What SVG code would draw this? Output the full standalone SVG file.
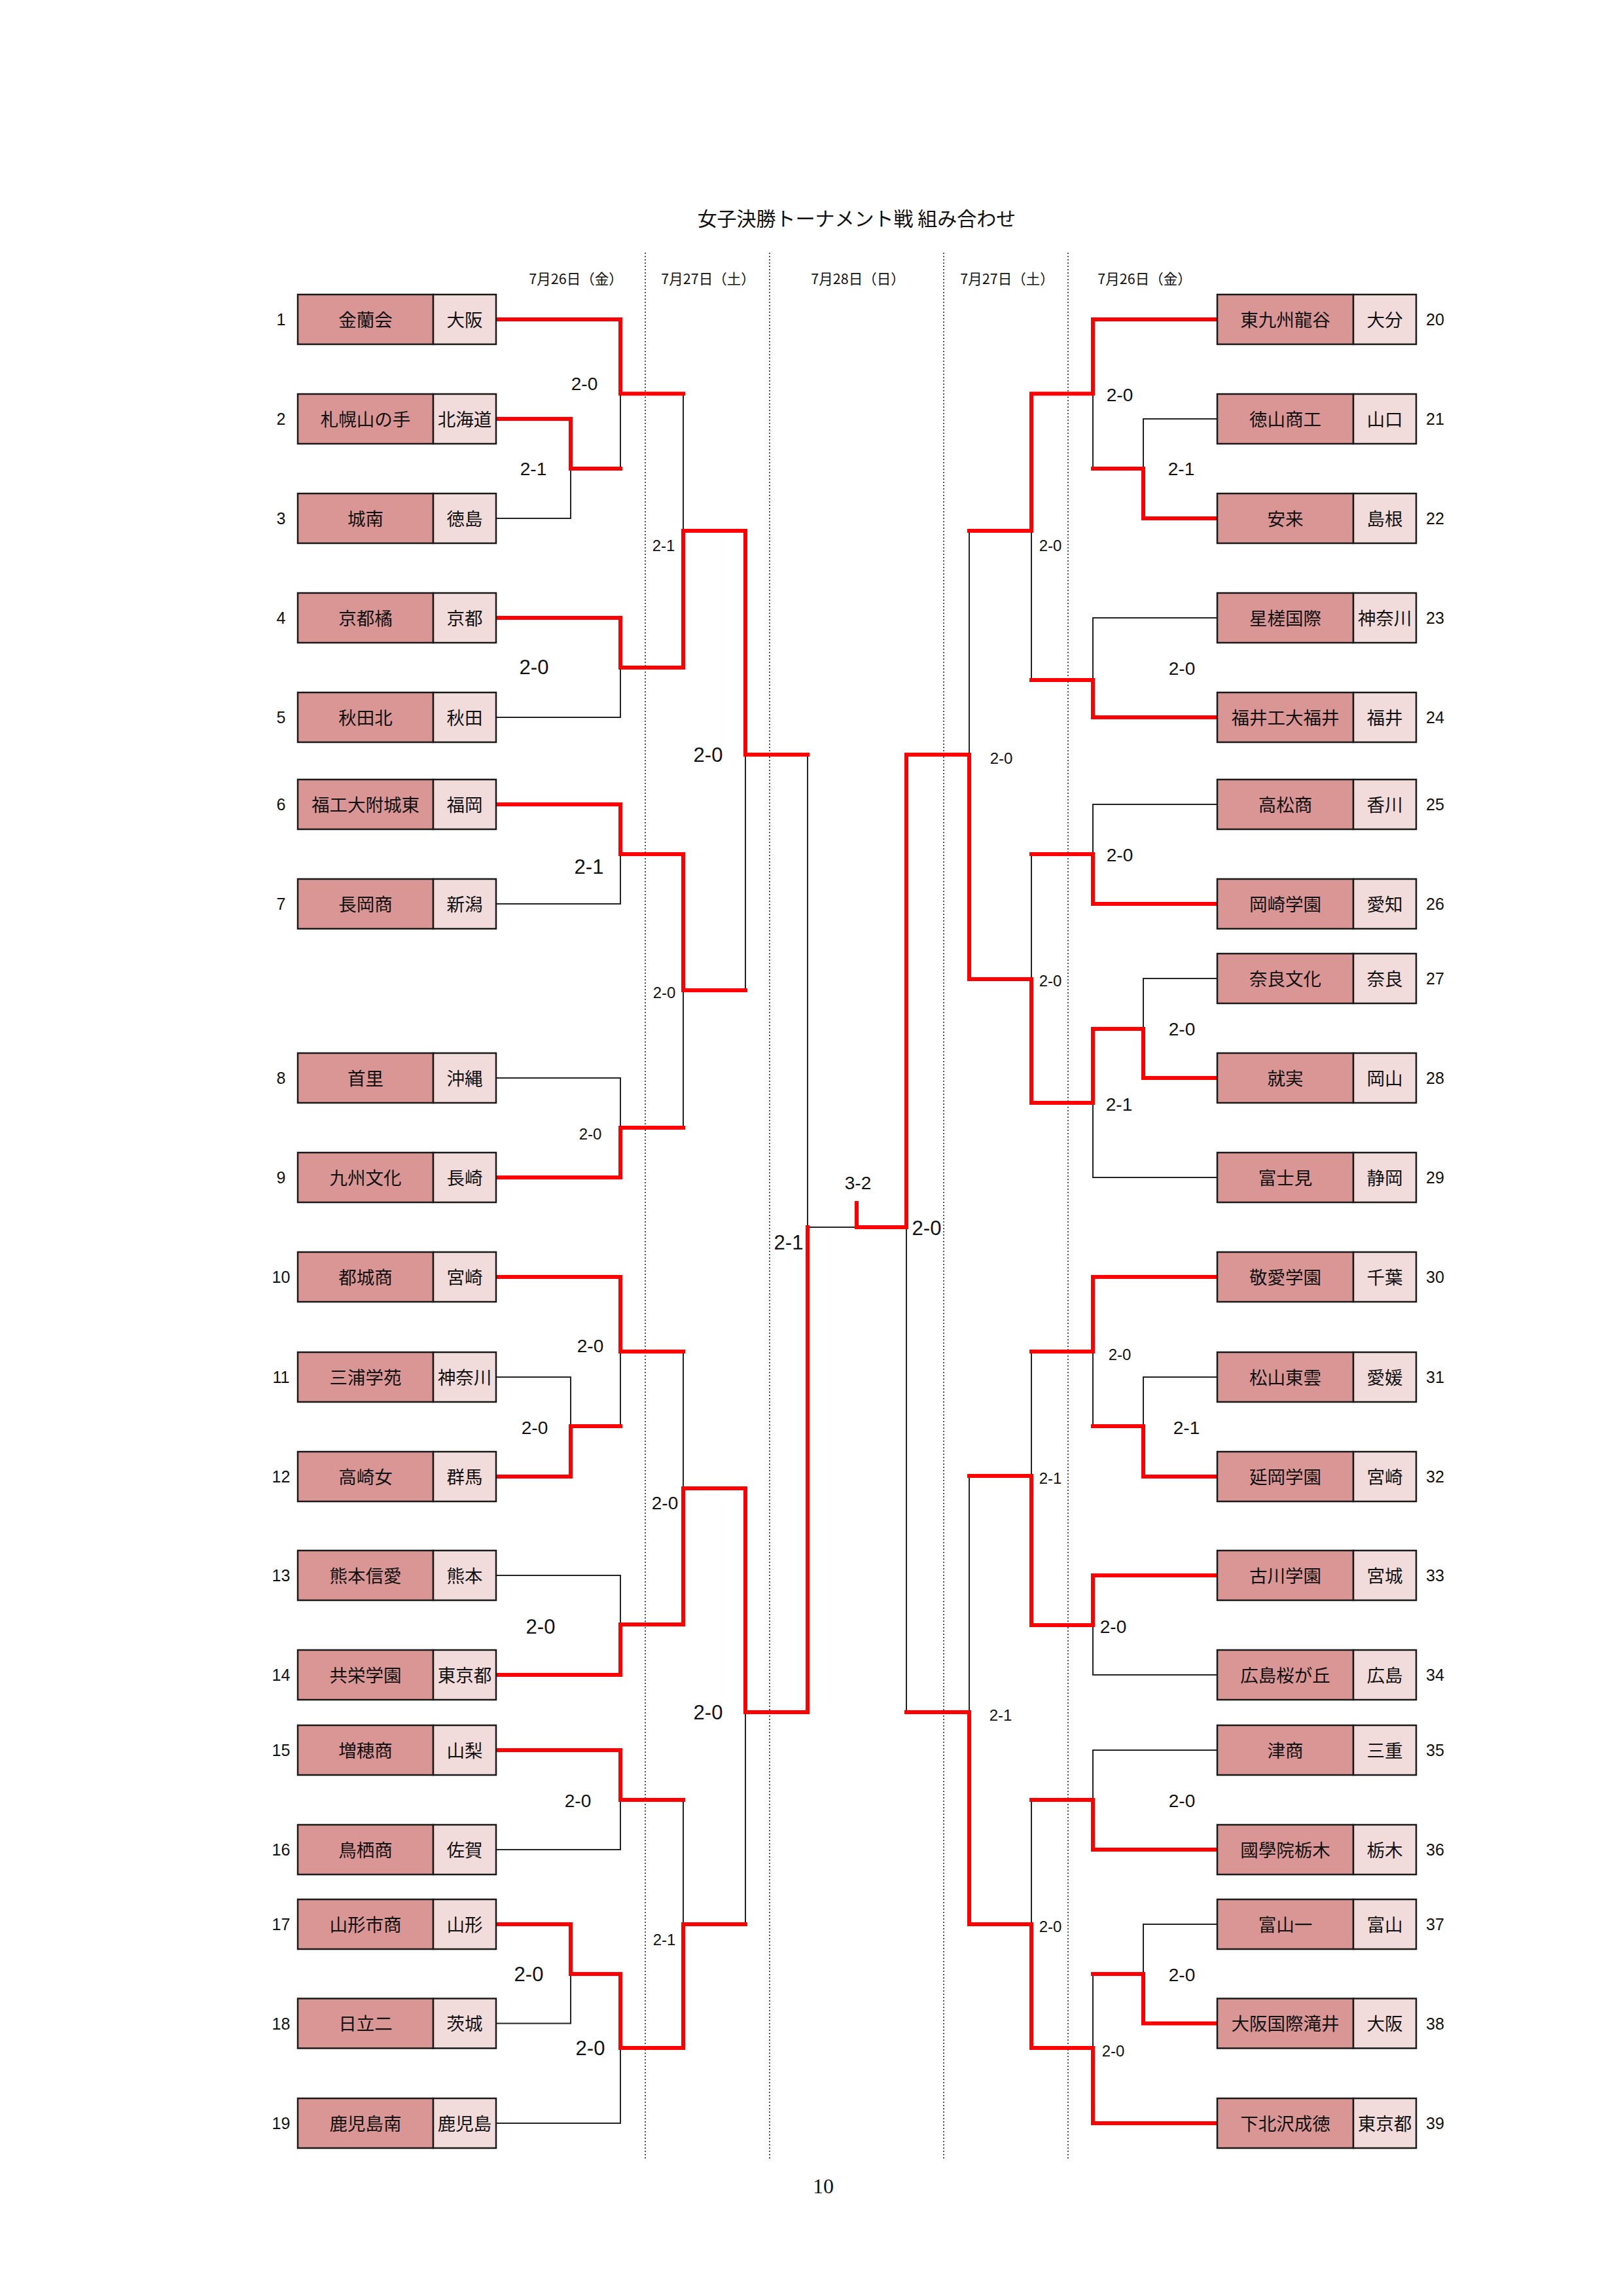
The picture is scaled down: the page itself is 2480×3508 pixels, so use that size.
<svg xmlns="http://www.w3.org/2000/svg" width="2480" height="3508" viewBox="0 0 2480 3508">
<style>
.bg{fill:#ffffff}
.n{fill:#D99694;stroke:#1a1a1a;stroke-width:2.5}
.p{fill:#F2DCDB;stroke:#1a1a1a;stroke-width:2.5}
.tn{font-family:"Noto Sans CJK JP","Noto Sans CJK SC",sans-serif;font-size:27.5px;fill:#111;text-anchor:middle}
.no{font-family:"Liberation Sans","Noto Sans CJK JP",sans-serif;font-size:25px;fill:#111;text-anchor:middle}
.t{fill:none;stroke:#222;stroke-width:2}
.r{fill:none;stroke:#FF0000;stroke-width:6;stroke-linejoin:miter;stroke-linecap:square}
.d{fill:none;stroke:#555;stroke-width:2;stroke-dasharray:2 3}
.s,.m,.l{font-family:"Liberation Sans","Noto Sans CJK JP",sans-serif;fill:#111;text-anchor:middle}
.s{font-size:24px}
.m{font-size:28px}
.l{font-size:31px}
.title{font-family:"Noto Sans CJK JP","Noto Sans CJK SC",sans-serif;font-size:30px;fill:#111;text-anchor:middle}
.date{font-family:"Noto Sans CJK JP","Noto Sans CJK SC",sans-serif;font-size:21.5px;fill:#111;text-anchor:middle}
.pg{font-family:"Liberation Serif",serif;font-size:32px;fill:#111;text-anchor:middle}
</style>
<rect class="bg" x="0" y="0" width="2480" height="3508"/>

<text class="title" x="1309" y="345">女子決勝トーナメント戦 組み合わせ</text>

<g id="dates">
<text class="date" x="880" y="434">7月26日（金）</text>
<text class="date" x="1082" y="434">7月27日（土）</text>
<text class="date" x="1311" y="434">7月28日（日）</text>
<text class="date" x="1539" y="434">7月27日（土）</text>
<text class="date" x="1749" y="434">7月26日（金）</text>
</g>

<g id="day-dividers">
<line class="d" x1="986" y1="386" x2="986" y2="3300"/>
<line class="d" x1="1176" y1="386" x2="1176" y2="3300"/>
<line class="d" x1="1442" y1="386" x2="1442" y2="3300"/>
<line class="d" x1="1632" y1="386" x2="1632" y2="3300"/>
</g>

<g id="connectors">
<g id="thin-lines">
<path class="t" d="M758 792 H872 V716"/>
<path class="t" d="M948 601.5 V716"/>
<path class="t" d="M1044 601.5 V811"/>
<path class="t" d="M758 1096 H948 V1020"/>
<path class="t" d="M758 1381 H948 V1305"/>
<path class="t" d="M758 1647 H948 V1723"/>
<path class="t" d="M1044 1513 V1723"/>
<path class="t" d="M1139 1153 V1513"/>
<path class="t" d="M1234 1153 V1875 H1309"/>
<path class="t" d="M758 2104 H872 V2179"/>
<path class="t" d="M948 2065 V2179"/>
<path class="t" d="M758 2407 H948 V2482"/>
<path class="t" d="M1044 2065 V2274"/>
<path class="t" d="M758 2826 H948 V2750"/>
<path class="t" d="M758 3091.5 H872 V3016"/>
<path class="t" d="M758 3244 H948 V3129"/>
<path class="t" d="M1044 2750 V2940"/>
<path class="t" d="M1139 2616 V2940"/>

<path class="t" d="M1860 640 H1747 V716"/>
<path class="t" d="M1670 601.5 V716"/>
<path class="t" d="M1576 811 V1039"/>
<path class="t" d="M1860 944 H1670 V1039"/>
<path class="t" d="M1860 1229 H1670 V1305"/>
<path class="t" d="M1576 1305 V1496"/>
<path class="t" d="M1860 1495 H1747 V1572"/>
<path class="t" d="M1860 1799 H1670 V1685"/>
<path class="t" d="M1481 811 V1153"/>
<path class="t" d="M1385 1875 V2616"/>
<path class="t" d="M1860 2104 H1747 V2179"/>
<path class="t" d="M1670 2065 V2179"/>
<path class="t" d="M1860 2559 H1670 V2483"/>
<path class="t" d="M1576 2065 V2255"/>
<path class="t" d="M1481 2255 V2616"/>
<path class="t" d="M1860 2674 H1670 V2750"/>
<path class="t" d="M1576 2750 V2940"/>
<path class="t" d="M1860 2940 H1747 V3016"/>
<path class="t" d="M1670 3016 V3129"/>
</g>
<g id="winner-lines">
<path class="r" d="M758 488 H948 V601.5 H1044"/>
<path class="r" d="M758 640 H872 V716 H948"/>
<path class="r" d="M758 944 H948 V1020 H1044 V811 H1139 V1153 H1234"/>
<path class="r" d="M758 1229 H948 V1305 H1044 V1513 H1139"/>
<path class="r" d="M758 1799 H948 V1723 H1044"/>
<path class="r" d="M758 1951 H948 V2065 H1044"/>
<path class="r" d="M758 2256 H872 V2179 H948"/>
<path class="r" d="M758 2559 H948 V2482 H1044 V2274 H1139 V2616 H1234 V1875"/>
<path class="r" d="M758 2674 H948 V2750 H1044"/>
<path class="r" d="M758 2940 H872 V3016 H948 V3129 H1044 V2940 H1139"/>

<path class="r" d="M1860 488 H1670 V601.5 H1576 V811 H1481"/>
<path class="r" d="M1860 792 H1747 V716 H1670"/>
<path class="r" d="M1860 1096 H1670 V1039 H1576"/>
<path class="r" d="M1860 1381 H1670 V1305 H1576"/>
<path class="r" d="M1860 1647 H1747 V1572 H1670 V1685 H1576 V1496 H1481 V1153 H1385 V1875 H1309 V1838"/>
<path class="r" d="M1860 1951 H1670 V2065 H1576"/>
<path class="r" d="M1860 2256 H1747 V2179 H1670"/>
<path class="r" d="M1860 2407 H1670 V2483 H1576 V2255 H1481"/>
<path class="r" d="M1860 2826 H1670 V2750 H1576"/>
<path class="r" d="M1860 3091.5 H1747 V3016 H1670"/>
<path class="r" d="M1860 3244 H1670 V3129 H1576 V2940 H1481 V2616 H1385"/>
</g>
<g id="scores">
<text class="m" x="893" y="596">2-0</text>
<text class="m" x="815" y="726">2-1</text>
<text class="s" x="1014" y="842">2-1</text>
<text class="l" x="816" y="1030">2-0</text>
<text class="l" x="900" y="1335">2-1</text>
<text class="s" x="1015" y="1525">2-0</text>
<text class="l" x="1082" y="1164">2-0</text>
<text class="s" x="902" y="1741">2-0</text>
<text class="l" x="1205" y="1909">2-1</text>
<text class="m" x="902" y="2066">2-0</text>
<text class="m" x="817" y="2191">2-0</text>
<text class="l" x="826" y="2496">2-0</text>
<text class="m" x="1016" y="2306">2-0</text>
<text class="m" x="883" y="2761">2-0</text>
<text class="s" x="1015" y="2972">2-1</text>
<text class="l" x="808" y="3027">2-0</text>
<text class="l" x="902" y="3140">2-0</text>
<text class="l" x="1082" y="2627">2-0</text>

<text class="m" x="1711" y="613">2-0</text>
<text class="m" x="1805" y="726">2-1</text>
<text class="s" x="1605" y="842">2-0</text>
<text class="m" x="1806" y="1031">2-0</text>
<text class="m" x="1711" y="1316">2-0</text>
<text class="s" x="1530" y="1167">2-0</text>
<text class="s" x="1605" y="1507">2-0</text>
<text class="m" x="1806" y="1582">2-0</text>
<text class="m" x="1710" y="1697">2-1</text>
<text class="l" x="1416" y="1887">2-0</text>
<text class="m" x="1311" y="1817">3-2</text>
<text class="s" x="1711" y="2078">2-0</text>
<text class="m" x="1813" y="2191">2-1</text>
<text class="s" x="1605" y="2267">2-1</text>
<text class="m" x="1701" y="2495">2-0</text>
<text class="s" x="1529" y="2629">2-1</text>
<text class="m" x="1806" y="2761">2-0</text>
<text class="s" x="1605" y="2952">2-0</text>
<text class="m" x="1806" y="3027">2-0</text>
<text class="s" x="1701" y="3142">2-0</text>
</g>
</g>

<g id="team-1" transform="translate(455,450)"><rect class="n" width="207" height="76"/><rect class="p" x="207" width="96" height="76"/><text class="tn" x="103.5" y="48.5">金蘭会</text><text class="tn" x="255" y="48.5">大阪</text><text class="no" x="-25.5" y="47">1</text></g>
<g id="team-2" transform="translate(455,602)"><rect class="n" width="207" height="76"/><rect class="p" x="207" width="96" height="76"/><text class="tn" x="103.5" y="48.5">札幌山の手</text><text class="tn" x="255" y="48.5">北海道</text><text class="no" x="-25.5" y="47">2</text></g>
<g id="team-3" transform="translate(455,754)"><rect class="n" width="207" height="76"/><rect class="p" x="207" width="96" height="76"/><text class="tn" x="103.5" y="48.5">城南</text><text class="tn" x="255" y="48.5">徳島</text><text class="no" x="-25.5" y="47">3</text></g>
<g id="team-4" transform="translate(455,906)"><rect class="n" width="207" height="76"/><rect class="p" x="207" width="96" height="76"/><text class="tn" x="103.5" y="48.5">京都橘</text><text class="tn" x="255" y="48.5">京都</text><text class="no" x="-25.5" y="47">4</text></g>
<g id="team-5" transform="translate(455,1058)"><rect class="n" width="207" height="76"/><rect class="p" x="207" width="96" height="76"/><text class="tn" x="103.5" y="48.5">秋田北</text><text class="tn" x="255" y="48.5">秋田</text><text class="no" x="-25.5" y="47">5</text></g>
<g id="team-6" transform="translate(455,1191)"><rect class="n" width="207" height="76"/><rect class="p" x="207" width="96" height="76"/><text class="tn" x="103.5" y="48.5">福工大附城東</text><text class="tn" x="255" y="48.5">福岡</text><text class="no" x="-25.5" y="47">6</text></g>
<g id="team-7" transform="translate(455,1343)"><rect class="n" width="207" height="76"/><rect class="p" x="207" width="96" height="76"/><text class="tn" x="103.5" y="48.5">長岡商</text><text class="tn" x="255" y="48.5">新潟</text><text class="no" x="-25.5" y="47">7</text></g>
<g id="team-8" transform="translate(455,1609)"><rect class="n" width="207" height="76"/><rect class="p" x="207" width="96" height="76"/><text class="tn" x="103.5" y="48.5">首里</text><text class="tn" x="255" y="48.5">沖縄</text><text class="no" x="-25.5" y="47">8</text></g>
<g id="team-9" transform="translate(455,1761)"><rect class="n" width="207" height="76"/><rect class="p" x="207" width="96" height="76"/><text class="tn" x="103.5" y="48.5">九州文化</text><text class="tn" x="255" y="48.5">長崎</text><text class="no" x="-25.5" y="47">9</text></g>
<g id="team-10" transform="translate(455,1913)"><rect class="n" width="207" height="76"/><rect class="p" x="207" width="96" height="76"/><text class="tn" x="103.5" y="48.5">都城商</text><text class="tn" x="255" y="48.5">宮崎</text><text class="no" x="-25.5" y="47">10</text></g>
<g id="team-11" transform="translate(455,2066)"><rect class="n" width="207" height="76"/><rect class="p" x="207" width="96" height="76"/><text class="tn" x="103.5" y="48.5">三浦学苑</text><text class="tn" x="255" y="48.5">神奈川</text><text class="no" x="-25.5" y="47">11</text></g>
<g id="team-12" transform="translate(455,2218)"><rect class="n" width="207" height="76"/><rect class="p" x="207" width="96" height="76"/><text class="tn" x="103.5" y="48.5">高崎女</text><text class="tn" x="255" y="48.5">群馬</text><text class="no" x="-25.5" y="47">12</text></g>
<g id="team-13" transform="translate(455,2369)"><rect class="n" width="207" height="76"/><rect class="p" x="207" width="96" height="76"/><text class="tn" x="103.5" y="48.5">熊本信愛</text><text class="tn" x="255" y="48.5">熊本</text><text class="no" x="-25.5" y="47">13</text></g>
<g id="team-14" transform="translate(455,2521)"><rect class="n" width="207" height="76"/><rect class="p" x="207" width="96" height="76"/><text class="tn" x="103.5" y="48.5">共栄学園</text><text class="tn" x="255" y="48.5">東京都</text><text class="no" x="-25.5" y="47">14</text></g>
<g id="team-15" transform="translate(455,2636)"><rect class="n" width="207" height="76"/><rect class="p" x="207" width="96" height="76"/><text class="tn" x="103.5" y="48.5">増穂商</text><text class="tn" x="255" y="48.5">山梨</text><text class="no" x="-25.5" y="47">15</text></g>
<g id="team-16" transform="translate(455,2788)"><rect class="n" width="207" height="76"/><rect class="p" x="207" width="96" height="76"/><text class="tn" x="103.5" y="48.5">鳥栖商</text><text class="tn" x="255" y="48.5">佐賀</text><text class="no" x="-25.5" y="47">16</text></g>
<g id="team-17" transform="translate(455,2902)"><rect class="n" width="207" height="76"/><rect class="p" x="207" width="96" height="76"/><text class="tn" x="103.5" y="48.5">山形市商</text><text class="tn" x="255" y="48.5">山形</text><text class="no" x="-25.5" y="47">17</text></g>
<g id="team-18" transform="translate(455,3053.5)"><rect class="n" width="207" height="76"/><rect class="p" x="207" width="96" height="76"/><text class="tn" x="103.5" y="48.5">日立二</text><text class="tn" x="255" y="48.5">茨城</text><text class="no" x="-25.5" y="47">18</text></g>
<g id="team-19" transform="translate(455,3206)"><rect class="n" width="207" height="76"/><rect class="p" x="207" width="96" height="76"/><text class="tn" x="103.5" y="48.5">鹿児島南</text><text class="tn" x="255" y="48.5">鹿児島</text><text class="no" x="-25.5" y="47">19</text></g>

<g id="team-20" transform="translate(1860,450)"><rect class="n" width="208" height="76"/><rect class="p" x="208" width="96" height="76"/><text class="tn" x="104" y="48.5">東九州龍谷</text><text class="tn" x="256" y="48.5">大分</text><text class="no" x="333" y="47">20</text></g>
<g id="team-21" transform="translate(1860,602)"><rect class="n" width="208" height="76"/><rect class="p" x="208" width="96" height="76"/><text class="tn" x="104" y="48.5">徳山商工</text><text class="tn" x="256" y="48.5">山口</text><text class="no" x="333" y="47">21</text></g>
<g id="team-22" transform="translate(1860,754)"><rect class="n" width="208" height="76"/><rect class="p" x="208" width="96" height="76"/><text class="tn" x="104" y="48.5">安来</text><text class="tn" x="256" y="48.5">島根</text><text class="no" x="333" y="47">22</text></g>
<g id="team-23" transform="translate(1860,906)"><rect class="n" width="208" height="76"/><rect class="p" x="208" width="96" height="76"/><text class="tn" x="104" y="48.5">星槎国際</text><text class="tn" x="256" y="48.5">神奈川</text><text class="no" x="333" y="47">23</text></g>
<g id="team-24" transform="translate(1860,1058)"><rect class="n" width="208" height="76"/><rect class="p" x="208" width="96" height="76"/><text class="tn" x="104" y="48.5">福井工大福井</text><text class="tn" x="256" y="48.5">福井</text><text class="no" x="333" y="47">24</text></g>
<g id="team-25" transform="translate(1860,1191)"><rect class="n" width="208" height="76"/><rect class="p" x="208" width="96" height="76"/><text class="tn" x="104" y="48.5">高松商</text><text class="tn" x="256" y="48.5">香川</text><text class="no" x="333" y="47">25</text></g>
<g id="team-26" transform="translate(1860,1343)"><rect class="n" width="208" height="76"/><rect class="p" x="208" width="96" height="76"/><text class="tn" x="104" y="48.5">岡崎学園</text><text class="tn" x="256" y="48.5">愛知</text><text class="no" x="333" y="47">26</text></g>
<g id="team-27" transform="translate(1860,1457)"><rect class="n" width="208" height="76"/><rect class="p" x="208" width="96" height="76"/><text class="tn" x="104" y="48.5">奈良文化</text><text class="tn" x="256" y="48.5">奈良</text><text class="no" x="333" y="47">27</text></g>
<g id="team-28" transform="translate(1860,1609)"><rect class="n" width="208" height="76"/><rect class="p" x="208" width="96" height="76"/><text class="tn" x="104" y="48.5">就実</text><text class="tn" x="256" y="48.5">岡山</text><text class="no" x="333" y="47">28</text></g>
<g id="team-29" transform="translate(1860,1761)"><rect class="n" width="208" height="76"/><rect class="p" x="208" width="96" height="76"/><text class="tn" x="104" y="48.5">富士見</text><text class="tn" x="256" y="48.5">静岡</text><text class="no" x="333" y="47">29</text></g>
<g id="team-30" transform="translate(1860,1913)"><rect class="n" width="208" height="76"/><rect class="p" x="208" width="96" height="76"/><text class="tn" x="104" y="48.5">敬愛学園</text><text class="tn" x="256" y="48.5">千葉</text><text class="no" x="333" y="47">30</text></g>
<g id="team-31" transform="translate(1860,2066)"><rect class="n" width="208" height="76"/><rect class="p" x="208" width="96" height="76"/><text class="tn" x="104" y="48.5">松山東雲</text><text class="tn" x="256" y="48.5">愛媛</text><text class="no" x="333" y="47">31</text></g>
<g id="team-32" transform="translate(1860,2218)"><rect class="n" width="208" height="76"/><rect class="p" x="208" width="96" height="76"/><text class="tn" x="104" y="48.5">延岡学園</text><text class="tn" x="256" y="48.5">宮崎</text><text class="no" x="333" y="47">32</text></g>
<g id="team-33" transform="translate(1860,2369)"><rect class="n" width="208" height="76"/><rect class="p" x="208" width="96" height="76"/><text class="tn" x="104" y="48.5">古川学園</text><text class="tn" x="256" y="48.5">宮城</text><text class="no" x="333" y="47">33</text></g>
<g id="team-34" transform="translate(1860,2521)"><rect class="n" width="208" height="76"/><rect class="p" x="208" width="96" height="76"/><text class="tn" x="104" y="48.5">広島桜が丘</text><text class="tn" x="256" y="48.5">広島</text><text class="no" x="333" y="47">34</text></g>
<g id="team-35" transform="translate(1860,2636)"><rect class="n" width="208" height="76"/><rect class="p" x="208" width="96" height="76"/><text class="tn" x="104" y="48.5">津商</text><text class="tn" x="256" y="48.5">三重</text><text class="no" x="333" y="47">35</text></g>
<g id="team-36" transform="translate(1860,2788)"><rect class="n" width="208" height="76"/><rect class="p" x="208" width="96" height="76"/><text class="tn" x="104" y="48.5">國學院栃木</text><text class="tn" x="256" y="48.5">栃木</text><text class="no" x="333" y="47">36</text></g>
<g id="team-37" transform="translate(1860,2902)"><rect class="n" width="208" height="76"/><rect class="p" x="208" width="96" height="76"/><text class="tn" x="104" y="48.5">富山一</text><text class="tn" x="256" y="48.5">富山</text><text class="no" x="333" y="47">37</text></g>
<g id="team-38" transform="translate(1860,3053.5)"><rect class="n" width="208" height="76"/><rect class="p" x="208" width="96" height="76"/><text class="tn" x="104" y="48.5">大阪国際滝井</text><text class="tn" x="256" y="48.5">大阪</text><text class="no" x="333" y="47">38</text></g>
<g id="team-39" transform="translate(1860,3206)"><rect class="n" width="208" height="76"/><rect class="p" x="208" width="96" height="76"/><text class="tn" x="104" y="48.5">下北沢成徳</text><text class="tn" x="256" y="48.5">東京都</text><text class="no" x="333" y="47">39</text></g>

<text class="pg" x="1258" y="3351">10</text>
</svg>
